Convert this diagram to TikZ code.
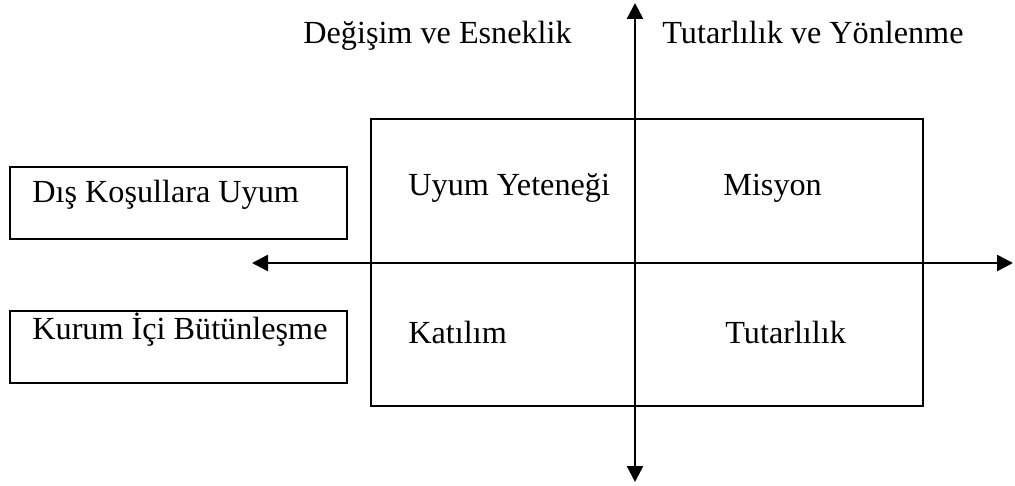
\documentclass[tikz,border=0pt]{standalone}
\usepackage{fontspec}
\setmainfont{Liberation Serif}
\usetikzlibrary{arrows.meta}
\begin{document}
\begin{tikzpicture}[x=0.5pt,y=-0.5pt,
  boxline/.style={draw=black,line width=1.3pt,inner sep=0pt,outer sep=0pt},
  lbl/.style={anchor=base west,inner sep=0pt,font=\fontsize{16.1}{19}\selectfont},
  axis/.style={line width=1.25pt,{Triangle[length=8pt,width=8pt]}-{Triangle[length=8pt,width=8pt]}}]
\useasboundingbox (0,0) rectangle (1015,486);
% boxes
\node[boxline,minimum width=552*0.5pt,minimum height=287*0.5pt] (big) at (647,262.5) {};
\node[boxline,minimum width=337*0.5pt,minimum height=72*0.5pt] (b1) at (178.5,203) {};
\node[boxline,minimum width=337*0.5pt,minimum height=72*0.5pt] (b2) at (178.5,347) {};
% axes
\coordinate (vt) at (635,3);
\coordinate (vb) at (635,482);
\coordinate (hl) at (252,263);
\coordinate (hr) at (1013,263);
\draw[axis] (vb) -- (vt);
\draw[axis] (hl) -- (hr);
% labels
\node[lbl] (t1) at (303,44) {Değişim ve Esneklik};
\node[lbl] (t2) at (662,44) {Tutarlılık ve Yönlenme};
\node[lbl] (l1) at (32,203) {Dış Koşullara Uyum};
\node[lbl] (l2) at (32,339) {Kurum İçi Bütünleşme};
\node[lbl] (q1) at (408,196) {Uyum Yeteneği};
\node[lbl] (q2) at (723,196) {Misyon};
\node[lbl] (q3) at (408,343) {Katılım};
\node[lbl] (q4) at (725,343) {Tutarlılık};
\end{tikzpicture}
\end{document}
